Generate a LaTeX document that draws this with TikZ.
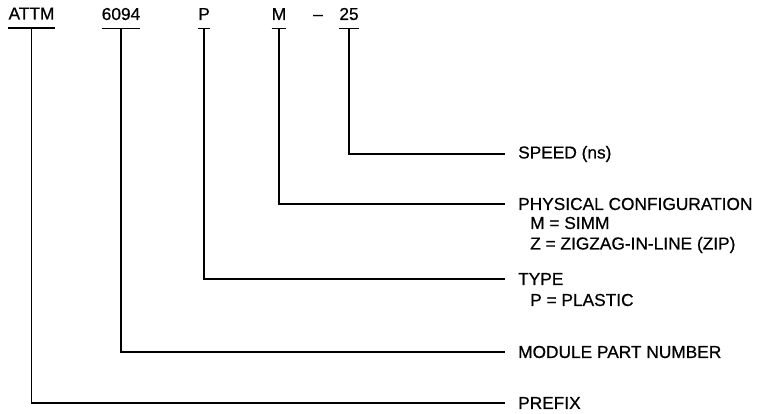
\documentclass[tikz,border=0pt]{standalone}
\usepackage{fontspec}
\setmainfont{Liberation Sans}[FakeBold=0.6]
\usetikzlibrary{positioning}

\tikzset{
  code/.style={anchor=base, inner sep=0pt, font=\fontsize{17.3}{20}\selectfont},
  lbl/.style={anchor=west, inner xsep=13pt, inner ysep=0pt, font=\fontsize{17.3}{20}\selectfont},
  sub/.style={anchor=west, inner sep=0pt, font=\fontsize{17.3}{20}\selectfont},
  wire/.style={line width=1.5pt}
}

\begin{document}
\begin{tikzpicture}[x=1pt,y=-1pt]
\useasboundingbox (0,0) rectangle (760,414);
% code fields
\node[code] (attm) at (31.5,19.5) {ATTM};
\node[code] (pn) at (121,20) {6094};
\node[code] (typ) at (204,20) {P};
\node[code] (cfg) at (279,20) {M};
\node[code] (dash) at (318,20) {--};
\node[code] (spd) at (349,20) {25};
% descriptions
\node[lbl] (spd lbl) at (505,154) {SPEED (ns)};
\node[lbl] (cfg lbl) at (505,204) {PHYSICAL CONFIGURATION};
\node[sub] (cfg m) at (530,223) {M = SIMM};
\node[sub] (cfg z) at (530,245) {Z = ZIGZAG-IN-LINE (ZIP)};
\node[lbl] (typ lbl) at (505,279) {TYPE};
\node[sub] (typ p) at (530,300) {P = PLASTIC};
\node[lbl] (pn lbl) at (505,352) {MODULE PART NUMBER};
\node[lbl] (attm lbl) at (505,403) {PREFIX};
% underlines
\foreach \f in {attm,pn,typ,cfg,spd}
  \draw[wire] ([yshift=-8.5pt]\f.base west) -- ([yshift=-8.5pt]\f.base east);
% leaders
\draw[wire] ([yshift=-8.5pt]spd.base) |- (spd lbl.west);
\draw[wire] ([yshift=-8.5pt]cfg.base) |- (cfg lbl.west);
\draw[wire] ([yshift=-8.5pt]typ.base) |- (typ lbl.west);
\draw[wire] ([yshift=-8.5pt]pn.base) |- (pn lbl.west);
\draw[wire] ([yshift=-8.5pt]attm.base) |- (attm lbl.west);
\end{tikzpicture}
\end{document}
